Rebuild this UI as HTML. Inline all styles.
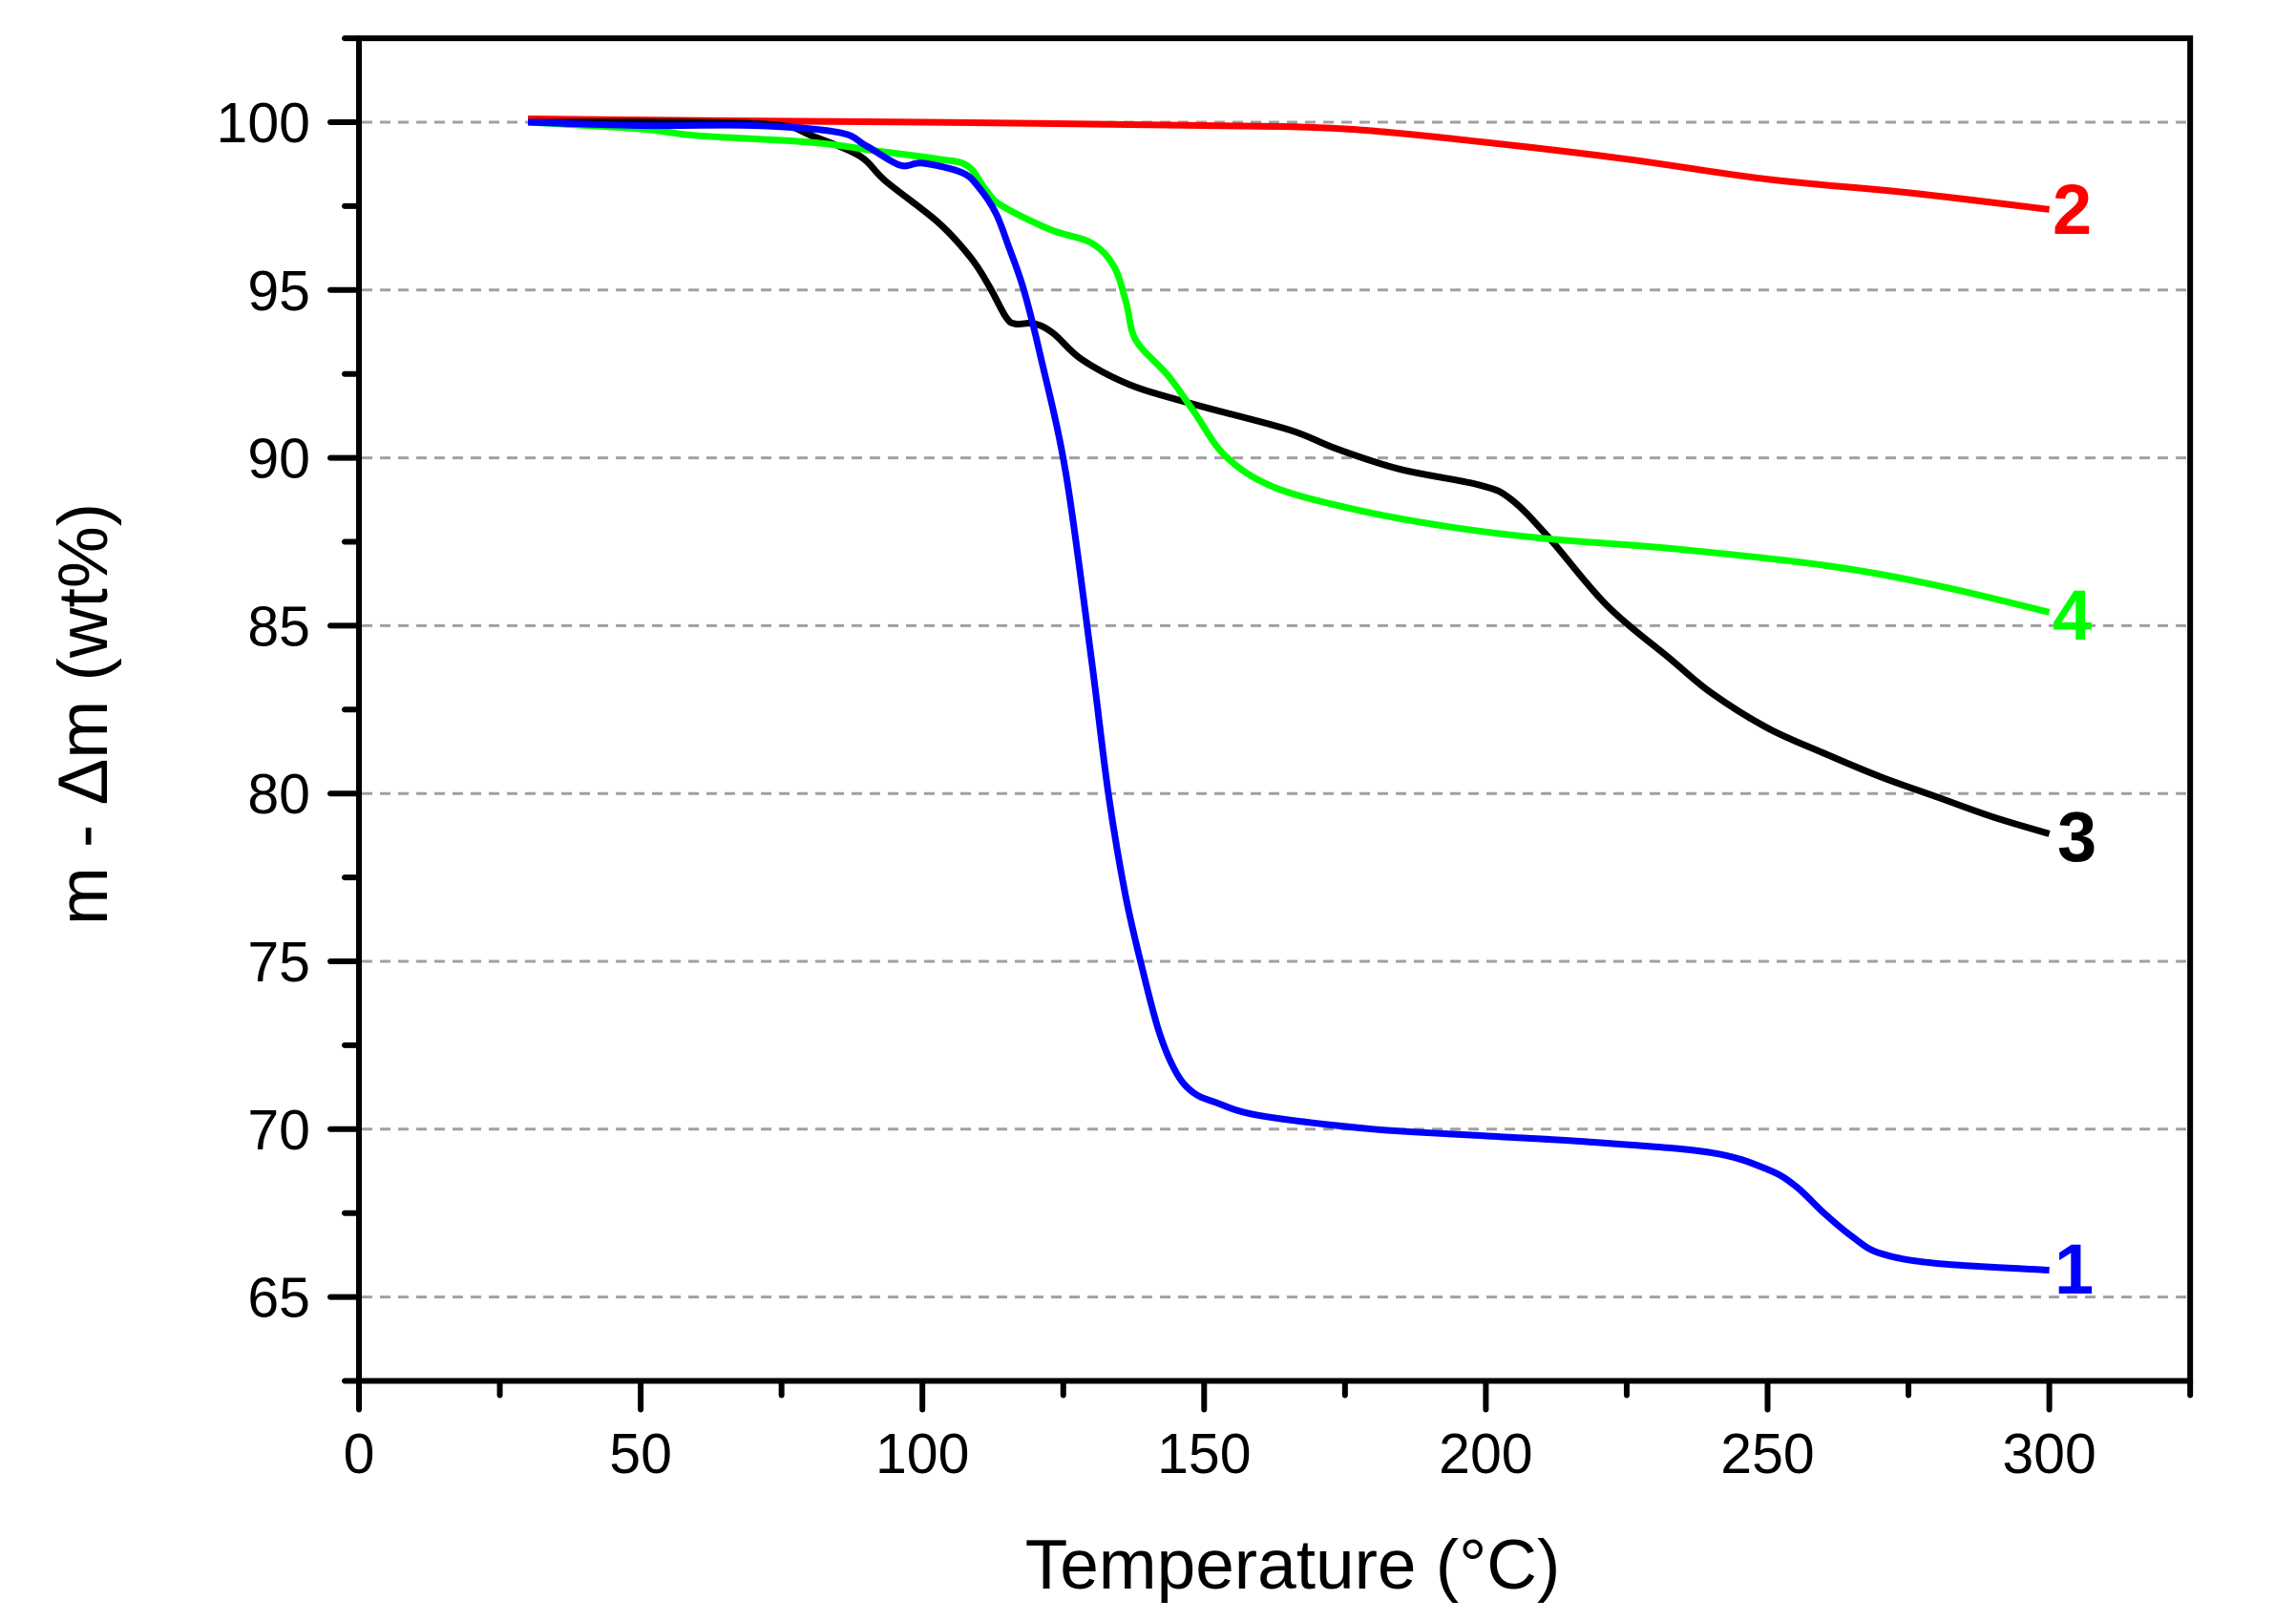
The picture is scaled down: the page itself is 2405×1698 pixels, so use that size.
<!DOCTYPE html>
<html><head><meta charset="utf-8"><style>
html,body{margin:0;padding:0;background:#fff;}
svg{display:block;}
text{font-family:"Liberation Sans",Arial,sans-serif;}
</style></head><body>
<svg id="chart" width="2405" height="1698" viewBox="0 0 2405 1698" xmlns="http://www.w3.org/2000/svg">
<g id="grid"></g>
<g id="series"></g>
<g id="axes"></g>
<g id="labels"></g>
<text x="1354" y="1664" font-size="73" text-anchor="middle">Temperature (°C)</text>
<text transform="translate(112,748) rotate(-90)" font-size="73" text-anchor="middle">m - Δm (wt%)</text>
</svg>
<script>
const xTicks = [0, 50, 100, 150, 200, 250, 300];
const yTicks = [65, 70, 75, 80, 85, 90, 95, 100];
const xMinorTicks = [25, 75, 125, 175, 225, 275, 325];
const yMinorTicks = [62.5, 67.5, 72.5, 77.5, 82.5, 87.5, 92.5, 97.5, 102.5];

const s1T = [30,50,70,85,90,96,100,107,110,113,115.3,118,121,125.5,130,133,136,139,142,145,148,152,160,180,200,220,240,250,255,260,265,270,280,300];
const s1V = [100,99.9,99.9,99.7,99.3,98.72,98.78,98.5,98.06,97.3,96.3,95,93,89.5,84,80,77,74.8,72.9,71.7,71.1,70.8,70.4,70.0,69.8,69.6,69.3,68.8,68.3,67.5,66.8,66.3,66.0,65.8];

const s2T = [30,60,100,150,175,200,225,250,275,300];
const s2V = [100.1,100.05,100,99.9,99.8,99.4,98.9,98.3,97.9,97.4];

const s3T = [30,60,75,80.3,88.8,93.5,102.9,108.6,111.9,114.8,116.5,119.9,123.3,128.3,136.8,148.1,165,173.5,184.8,198.9,204.5,211.3,221.5,232.8,240,250,260,270,280,290,300];
const s3V = [100,100,99.9,99.6,99.0,98.24,97.0,95.96,95.1,94.2,93.99,94.0,93.7,92.93,92.18,91.6,90.84,90.27,89.66,89.19,88.76,87.6,85.6,84.0,83.0,81.95,81.2,80.5,79.9,79.3,78.8];

const s4T = [30,50,60,80.3,91.6,102.9,108,111.4,114.2,122.7,130,134,136.2,137.9,143.6,148.1,153.8,162.2,176.3,193.3,210.3,232.8,260,280,300];
const s4V = [100,99.8,99.6,99.4,99.15,98.9,98.7,97.95,97.5,96.8,96.4,95.7,94.6,93.5,92.45,91.4,90.05,89.14,88.48,87.95,87.6,87.3,86.8,86.2,85.4];

const seriesNames = ['1','2','3','4'];
const seriesColors = ['#0000ff','#ff0000','#000000','#00ff00'];
const labelPos = [[2152,1355],[2150,245],[2155,902],[2150,670]];

const X0=376, PX=5.902, Y100=128, PY=35.16;
function xs(t){return X0 + t*PX;}
function ys(v){return Y100 + (100-v)*PY;}
const NS='http://www.w3.org/2000/svg';
function mk(tag, parent, attrs){const e=document.createElementNS(NS,tag);for(const k in attrs)e.setAttribute(k,attrs[k]);parent.appendChild(e);return e;}

const grid=document.getElementById('grid');
yTicks.forEach(v=>{
  const l=mk('line',grid,{x1:xs(0)+3,x2:xs(325)-3,y1:ys(v),y2:ys(v),stroke:'#a0a0a0','stroke-width':3,'stroke-dasharray':'11 8'});
  
  
});

const ser=document.getElementById('series');
[[s2T,s2V],[s3T,s3V],[s4T,s4V],[s1T,s1V]].forEach((d,i)=>{
  const idx=[1,2,3,0][i];
  let pts=d[0].map((t,j)=>[xs(t),ys(d[1][j])]);
  let p='M'+pts[0][0]+','+pts[0][1];
  for(let j=0;j<pts.length-1;j++){
    const p0=pts[Math.max(0,j-1)],p1=pts[j],p2=pts[j+1],p3=pts[Math.min(pts.length-1,j+2)];
    const c1=[p1[0]+(p2[0]-p0[0])/6,p1[1]+(p2[1]-p0[1])/6];
    const c2=[p2[0]-(p3[0]-p1[0])/6,p2[1]-(p3[1]-p1[1])/6];
    p+=' C'+c1.join(',')+' '+c2.join(',')+' '+p2.join(',');
  }
  const path=mk('path',ser,{d:p,fill:'none',stroke:seriesColors[idx],'stroke-width':7,'stroke-linejoin':'round'});
  
  
});

const ax=document.getElementById('axes');
const frame=mk('path',ax,{d:`M${xs(0)},${ys(102.5)} H${xs(325)} V${ys(62.5)} H${xs(0)} Z`,fill:'none',stroke:'#000','stroke-width':6,'stroke-linecap':'square'});


xTicks.forEach(t=>{
  const l=mk('line',ax,{x1:xs(t),x2:xs(t),y1:ys(62.5),y2:ys(62.5)+30,stroke:'#000','stroke-width':6,'stroke-linecap':'round'});
  
  
  const tx=mk('text',ax,{x:xs(t),y:1543,'font-size':59,'text-anchor':'middle'});
  tx.textContent=t;
  
  
});
xMinorTicks.forEach(t=>{
  const l=mk('line',ax,{x1:xs(t),x2:xs(t),y1:ys(62.5),y2:ys(62.5)+15,stroke:'#000','stroke-width':6,'stroke-linecap':'round'});
  
  
});
yTicks.forEach(v=>{
  const l=mk('line',ax,{x1:xs(0)-30,x2:xs(0),y1:ys(v),y2:ys(v),stroke:'#000','stroke-width':6,'stroke-linecap':'round'});
  
  
  const tx=mk('text',ax,{x:325,y:ys(v)+21,'font-size':59,'text-anchor':'end'});
  tx.textContent=v;
  
  
});
yMinorTicks.forEach(v=>{
  const l=mk('line',ax,{x1:xs(0)-15,x2:xs(0),y1:ys(v),y2:ys(v),stroke:'#000','stroke-width':6,'stroke-linecap':'round'});
  
  
});

const lab=document.getElementById('labels');
seriesNames.forEach((n,i)=>{
  const tx=mk('text',lab,{x:labelPos[i][0],y:labelPos[i][1],'font-size':74,'font-weight':'bold',fill:seriesColors[i]});
  tx.textContent=n;
  
  
});
</script>
</body></html>
